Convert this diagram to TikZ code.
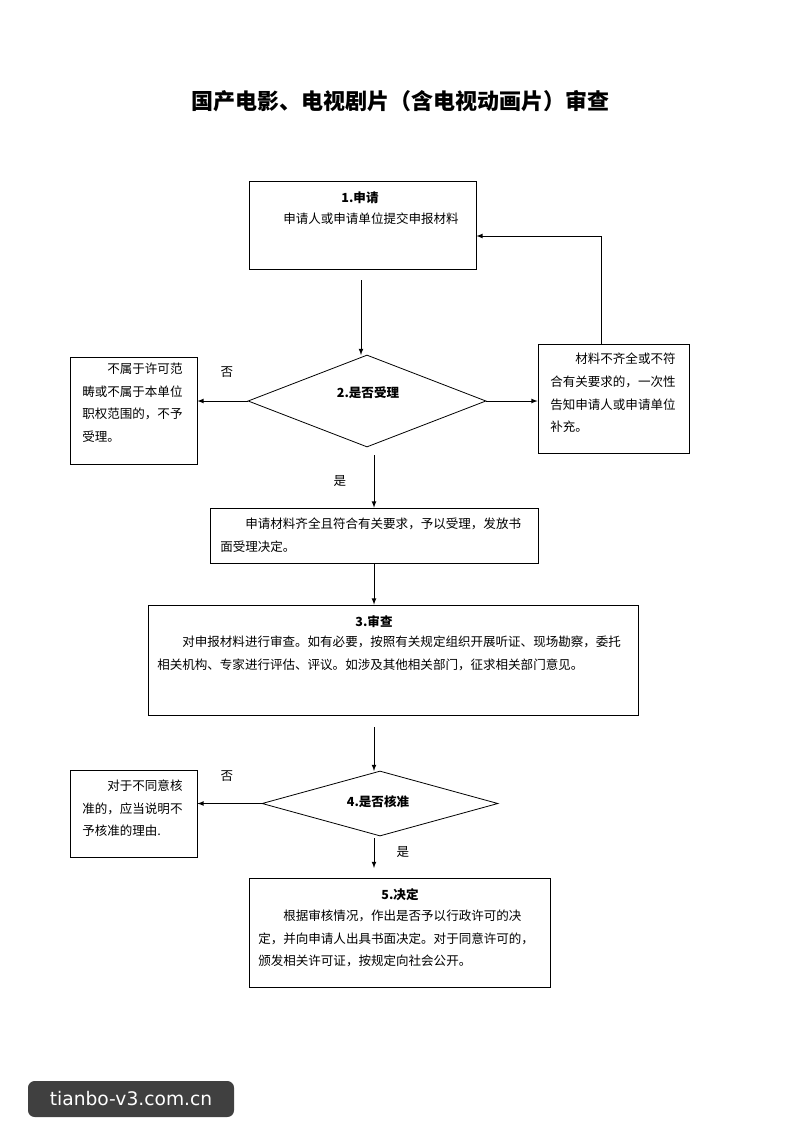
\documentclass[tikz,border=0pt]{standalone}
\usepackage{fontspec}
\setmainfont{Noto Sans CJK SC}
\newfontfamily\wmfont{DejaVu Sans}
\usetikzlibrary{shapes.geometric}
\tikzset{
  box/.style={draw, line width=0.6pt, inner sep=0pt},
  dia/.style={draw, diamond, line width=0.6pt, inner sep=0pt},
  txt/.style={anchor=north west, inner sep=0pt, align=left, font=\fontsize{9.4}{16.9}\selectfont},
  lbl/.style={inner sep=0pt, font=\fontsize{9.4}{11}\selectfont},
  arr/.style={-latex, line width=0.6pt}
}
\begin{document}
\begin{tikzpicture}[x=0.75pt, y=-0.75pt]
\useasboundingbox (0,0) rectangle (800,1145);

\node[lbl, font=\fontsize{16.5}{20}\bfseries] (title) at (400,101) {国产电影、电视剧片（含电视动画片）审查};

% boxes
\node[box, minimum width=170.25pt, minimum height=66pt] (apply) at (362.5,225) {};
\node[dia, minimum width=178.5pt, minimum height=69pt] (accept) at (367,401) {};
\node[box, minimum width=95.25pt, minimum height=80.25pt] (reject) at (133.5,410.5) {};
\node[box, minimum width=113.25pt, minimum height=81.75pt] (supply) at (613.5,398.5) {};
\node[box, minimum width=246pt, minimum height=41.25pt] (accepted) at (374,535.5) {};
\node[box, minimum width=367.5pt, minimum height=82.5pt] (review) at (393,660) {};
\node[dia, minimum width=177pt, minimum height=48.75pt] (approve) at (380,803.5) {};
\node[box, minimum width=95.25pt, minimum height=65.25pt] (refuse) at (133.5,813.5) {};
\node[box, minimum width=225.75pt, minimum height=81.75pt] (decide) at (399.5,932.5) {};

% texts
\node[lbl, font=\fontsize{9.4}{11}\bfseries] at (360,198) {1.申请};
\node[lbl, anchor=west] at (283,219) {申请人或申请单位提交申报材料};
\node[lbl, font=\fontsize{9.4}{11}\bfseries] at (368,393) {2.是否受理};
\node[txt] at (82,363) {\hspace*{2em}不属于许可范\\畴或不属于本单位\\职权范围的，不予\\受理。};
\node[txt] at (550,353) {\hspace*{2em}材料不齐全或不符\\合有关要求的，一次性\\告知申请人或申请单位\\补充。};
\node[txt] at (220,518) {\hspace*{2em}申请材料齐全且符合有关要求，予以受理，发放书\\面受理决定。};
\node[lbl, font=\fontsize{9.4}{11}\bfseries] at (374,622) {3.审查};
\node[txt] at (157,636) {\hspace*{2em}对申报材料进行审查。如有必要，按照有关规定组织开展听证、现场勘察，委托\\相关机构、专家进行评估、评议。如涉及其他相关部门，征求相关部门意见。};
\node[lbl, font=\fontsize{9.4}{11}\bfseries] at (378,802) {4.是否核准};
\node[txt] at (82,780) {\hspace*{2em}对于不同意核\\准的，应当说明不\\予核准的理由.};
\node[lbl, font=\fontsize{9.4}{11}\bfseries] at (400,895) {5.决定};
\node[txt] at (258,910) {\hspace*{2em}根据审核情况，作出是否予以行政许可的决\\定，并向申请人出具书面决定。对于同意许可的，\\颁发相关许可证，按规定向社会公开。};

\node[lbl] (no1) at (227,372) {否};
\node[lbl] (yes1) at (340,481) {是};
\node[lbl] (no2) at (227,776) {否};
\node[lbl] (yes2) at (403,852) {是};

% connectors
\coordinate (s1) at (361,280);
\coordinate (s3) at (374,727);
\coordinate (s2) at (374,455);
\coordinate (s4) at (374,838);
\draw[arr] (s1) -- (361,355);
\draw[arr] (accept.west) -- (reject.east |- accept.west);
\draw[arr] (accept.east) -- (supply.west |- accept.east);
\draw[arr] (supply.north -| 601,0) -- (601,236) -- (apply.east |- 0,236);
\draw[arr] (s2) -- (accepted.north -| s2);
\draw[arr] (accepted.south) -- (review.north -| accepted.south);
\draw[arr] (s3) -- (374,771);
\draw[arr] (approve.west) -- (refuse.east |- approve.west);
\draw[arr] (s4) -- (374,868);

% watermark
\node[fill=black!75, rounded corners=5pt, minimum width=154.5pt, minimum height=27pt, text=white, font=\wmfont\fontsize{14}{16}\selectfont] (wm) at (131,1099) {tianbo-v3.com.cn};
\end{tikzpicture}
\end{document}
